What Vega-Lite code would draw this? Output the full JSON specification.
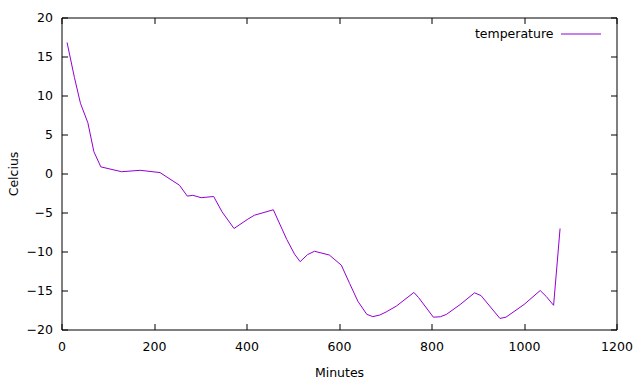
{
  "$schema": "https://vega.github.io/schema/vega-lite/v6.json",
  "width": 555,
  "height": 312,
  "autosize": {"type": "none"},
  "padding": {"left": 61.5, "top": 17.5, "right": 23.5, "bottom": 54.5},
  "background": "white",
  "config": {
    "font": "DejaVu Sans",
    "view": {"stroke": "black", "strokeWidth": 1},
    "axis": {
      "domain": false,
      "grid": false,
      "tickSize": -6,
      "tickColor": "black",
      "tickWidth": 1,
      "labelFont": "DejaVu Sans",
      "labelFontSize": 12.5,
      "labelColor": "black",
      "titleFont": "DejaVu Sans",
      "titleFontSize": 12.5,
      "titleFontWeight": "normal",
      "titleColor": "black",
      "format": "d"
    },
    "legend": {
      "orient": "none",
      "legendX": 499,
      "legendY": -4,
      "symbolType": "stroke",
      "symbolSize": 1600,
      "symbolStrokeWidth": 1,
      "labelAlign": "right",
      "labelOffset": -48,
      "labelFont": "DejaVu Sans",
      "labelFontSize": 12.5,
      "labelColor": "black",
      "padding": 0,
      "title": null
    }
  },
  "data": {
    "values": [
      {"minutes": 12, "temperature": 16.8},
      {"minutes": 28, "temperature": 12.3},
      {"minutes": 41, "temperature": 9.0},
      {"minutes": 57, "temperature": 6.5},
      {"minutes": 70, "temperature": 2.8},
      {"minutes": 85, "temperature": 0.85},
      {"minutes": 130, "temperature": 0.23},
      {"minutes": 170, "temperature": 0.41},
      {"minutes": 213, "temperature": 0.12},
      {"minutes": 255, "temperature": -1.5},
      {"minutes": 272, "temperature": -2.9},
      {"minutes": 284, "temperature": -2.8},
      {"minutes": 302, "temperature": -3.1},
      {"minutes": 329, "temperature": -2.95},
      {"minutes": 347, "temperature": -4.9},
      {"minutes": 373, "temperature": -7.05},
      {"minutes": 403, "temperature": -5.85},
      {"minutes": 417, "temperature": -5.35},
      {"minutes": 458, "temperature": -4.65},
      {"minutes": 487, "temperature": -8.45},
      {"minutes": 504, "temperature": -10.35},
      {"minutes": 516, "temperature": -11.3},
      {"minutes": 532, "temperature": -10.4},
      {"minutes": 547, "temperature": -9.97},
      {"minutes": 579, "temperature": -10.45},
      {"minutes": 605, "temperature": -11.75},
      {"minutes": 623, "temperature": -14.1},
      {"minutes": 641, "temperature": -16.4},
      {"minutes": 660, "temperature": -18.05},
      {"minutes": 673, "temperature": -18.35},
      {"minutes": 688, "temperature": -18.15},
      {"minutes": 702, "temperature": -17.75},
      {"minutes": 724, "temperature": -17.0},
      {"minutes": 762, "temperature": -15.25},
      {"minutes": 772, "temperature": -15.9},
      {"minutes": 804, "temperature": -18.42},
      {"minutes": 819, "temperature": -18.37},
      {"minutes": 832, "temperature": -18.07},
      {"minutes": 862, "temperature": -16.8},
      {"minutes": 893, "temperature": -15.3},
      {"minutes": 907, "temperature": -15.65},
      {"minutes": 948, "temperature": -18.58},
      {"minutes": 961, "temperature": -18.42},
      {"minutes": 1000, "temperature": -16.8},
      {"minutes": 1035, "temperature": -15.0},
      {"minutes": 1048, "temperature": -15.76},
      {"minutes": 1064, "temperature": -16.9},
      {"minutes": 1078, "temperature": -7.05}
    ]
  },
  "layer": [
    {
      "mark": {"type": "line", "strokeWidth": 1, "interpolate": "linear"},
      "encoding": {
        "x": {
          "field": "minutes", "type": "quantitative",
          "scale": {"domain": [0, 1200], "nice": false, "zero": false},
          "axis": {"orient": "bottom", "values": [0, 200, 400, 600, 800, 1000, 1200], "format": "d", "title": "Minutes", "labelPadding": 17, "titlePadding": 13, "labelFlush": false}
        },
        "y": {
          "field": "temperature", "type": "quantitative",
          "scale": {"domain": [-20, 20], "nice": false, "zero": false},
          "axis": {"orient": "left", "values": [-20, -15, -10, -5, 0, 5, 10, 15, 20], "format": "d", "title": "Celcius", "labelPadding": 15, "titlePadding": 6, "labelFlush": false}
        },
        "color": {
          "datum": "temperature",
          "type": "nominal",
          "scale": {"range": ["#9400d3"]},
          "legend": {"title": null}
        }
      }
    },
    {
      "mark": {"type": "line", "strokeWidth": 1, "opacity": 0},
      "encoding": {
        "x": {
          "field": "minutes", "type": "quantitative",
          "axis": {"orient": "top", "values": [0, 200, 400, 600, 800, 1000, 1200], "labels": false, "title": null}
        },
        "y": {
          "field": "temperature", "type": "quantitative",
          "axis": {"orient": "right", "values": [-20, -15, -10, -5, 0, 5, 10, 15, 20], "labels": false, "title": null}
        }
      }
    }
  ],
  "resolve": {"axis": {"x": "independent", "y": "independent"}}
}
